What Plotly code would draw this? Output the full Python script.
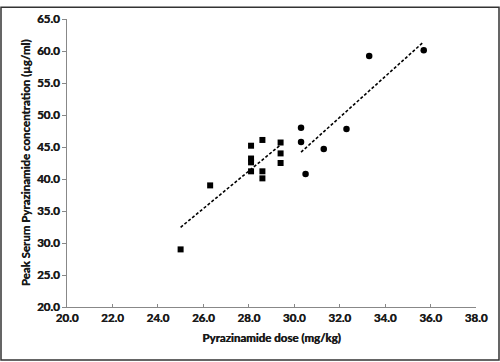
import numpy as np
import plotly.graph_objects as go

# Squares group
sq_dose = [25.0, 26.3, 28.1, 28.1, 28.1, 28.1, 28.6, 28.6, 28.6, 29.4, 29.4, 29.4]
sq_conc = [29.0, 39.0, 45.2, 43.2, 42.6, 41.2, 46.1, 41.2, 40.1, 45.7, 44.0, 42.5]
# Circles group
ci_dose = [30.3, 30.3, 30.5, 31.3, 32.3, 33.3, 35.7]
ci_conc = [48.0, 45.8, 40.8, 44.7, 47.8, 59.2, 60.1]

x_ticks = [20.0, 22.0, 24.0, 26.0, 28.0, 30.0, 32.0, 34.0, 36.0, 38.0]
y_ticks = [20.0, 25.0, 30.0, 35.0, 40.0, 45.0, 50.0, 55.0, 60.0, 65.0]

def fit(xs, ys):
    m, b = np.polyfit(xs, ys, 1)
    xx = np.array([min(xs), max(xs)])
    return xx, m * xx + b

fig = go.Figure()
line_style = dict(color="black", width=1.6, dash="3px,2px")
for xs, ys, sym in [(sq_dose, sq_conc, "square"), (ci_dose, ci_conc, "circle")]:
    fx, fy = fit(xs, ys)
    fig.add_trace(go.Scatter(x=fx, y=fy, mode="lines", line=line_style,
                             showlegend=False, hoverinfo="skip"))
    fig.add_trace(go.Scatter(x=xs, y=ys, mode="markers",
                             marker=dict(symbol=sym, size=6 if sym == "square" else 6.5,
                                         color="black"),
                             showlegend=False))

FAM = "Lato"
FS = 11.5
TXT = "#1a1a1a"
SH = "0.45px 0px 0px #1a1a1a"
tf = dict(family=FAM, size=FS, color=TXT, weight="bold", shadow=SH)
L, R, T, B = 67, 24, 13, 55
W, H = 500, 362
pw, ph = W - L - R, H - T - B

fig.update_layout(
    width=W, height=H,
    margin=dict(l=L, r=R, t=T, b=B),
    paper_bgcolor="white", plot_bgcolor="white",
    font=dict(family=FAM, size=FS, color=TXT),
    xaxis=dict(range=[20, 38], tickvals=x_ticks,
               ticktext=[f"{v:.1f}" for v in x_ticks],
               showgrid=False, zeroline=False, showline=True,
               linecolor="#888", linewidth=1, ticks="inside", ticklen=3,
               tickcolor="#888",
               tickfont=tf,
               title=dict(text="Pyrazinamide dose (mg/kg)", font=tf, standoff=11)),
    yaxis=dict(range=[20, 65], tickvals=y_ticks,
               ticktext=[f"{v:.1f}" for v in y_ticks],
               showgrid=False, zeroline=False, showline=True,
               linecolor="#888", linewidth=1, ticks="outside", ticklen=4,
               tickcolor="#888",
               tickfont=tf,
               title=dict(text="Peak Serum Pyrazinamide concentration (µg/ml)",
                          font=tf, standoff=3)),
    shapes=[dict(type="rect", xref="paper", yref="paper",
                 x0=(1 - L) / pw, x1=(W - 1 - L) / pw,
                 y0=-(B - 1) / ph, y1=1 + (T - 1) / ph,
                 line=dict(color="#333", width=1.5))],
)

fig.write_html("out.html", config={"displayModeBar": False},
               post_script="document.body.style.margin='0';")
